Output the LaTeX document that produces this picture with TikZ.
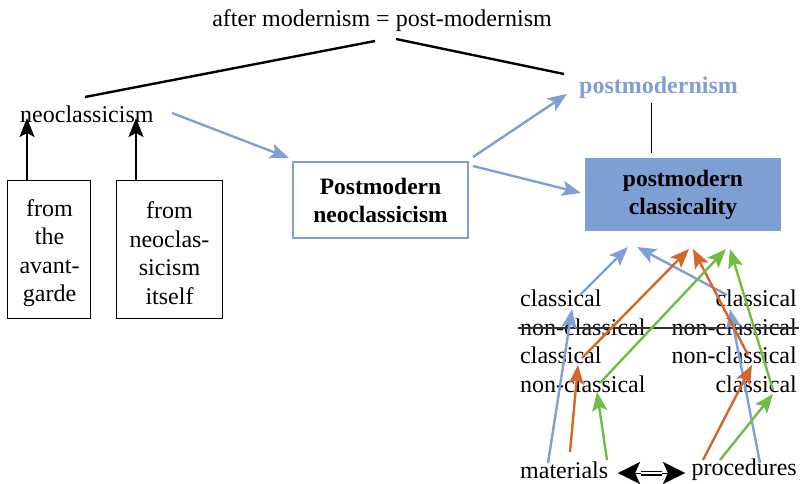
\documentclass[tikz,border=0pt]{standalone}
\usepackage{fontspec}
\setmainfont{Liberation Serif}
\usetikzlibrary{arrows.meta}
\definecolor{cblue}{HTML}{7F9FD5}
\definecolor{cfill}{HTML}{7D9FD3}
\definecolor{corange}{HTML}{D2672A}
\definecolor{cgreen}{HTML}{6EBD45}
\tikzset{
  txt/.style={inner sep=0pt, font=\fontsize{24}{28.5}\selectfont},
  bldtxt/.style={inner sep=0pt, font=\fontsize{23.5}{28}\selectfont\bfseries, align=center},
  headtip/.style={-{Stealth[length=19pt,width=15pt,inset=4pt]}},
  barrow/.style={headtip, cblue, line width=2.4pt},
  oarrow/.style={headtip, corange, line width=2.4pt},
  garrow/.style={headtip, cgreen, line width=2.4pt},
  karrow/.style={headtip, black, line width=2.2pt},
  smallbox/.style={draw, line width=1pt, minimum height=138pt, inner sep=0pt},
  boxtxt/.style={inner sep=0pt, align=center, font=\fontsize{24}{28.5}\selectfont},
  bighead/.style={-{Stealth[length=22pt,width=22pt,inset=5pt]}, line width=0.1pt},
}
\begin{document}
\begin{tikzpicture}[x=1pt,y=-1pt]
\useasboundingbox (0,0) rectangle (811,484);
% top
\node[txt] (title) at (382,21) {after modernism = post-modernism};
\node[txt, anchor=west] (neo) at (20,114) {neoclassicism};
\node[txt, anchor=west, font=\fontsize{24}{28}\selectfont\bfseries, text=cblue] (pm) at (579,88) {postmodernism};
\coordinate (tl1) at (85,97); \coordinate (tl2) at (375,41);
\coordinate (tr1) at (396,39); \coordinate (tr2) at (564,74);
\draw[line width=2.4pt] (tl1) -- (tl2);
\draw[line width=2.4pt] (tr1) -- (tr2);
% boxes
\node[draw=cblue, line width=2pt, fill=white, minimum width=175pt, minimum height=76pt, bldtxt] (pmn) at (380.5,200) {Postmodern\\neoclassicism};
\node[fill=cfill, minimum width=196pt, minimum height=73pt, bldtxt] (pmc) at (683,194.5) {postmodern\\classicality};
\coordinate (vl1) at (651,103); \coordinate (vl2) at (651,153);
\draw[line width=1pt] (vl1) -- (vl2);
\node[smallbox, minimum width=83pt] (b1) at (48.5,249) {};
\node[smallbox, minimum width=106pt] (b2) at (169,249) {};
\node[boxtxt] (b1t) at (49.5,253) {from\\the\\avant-\\garde};
\node[boxtxt] (b2t) at (169.5,253) {from\\neoclas-\\sicism\\itself};
\coordinate (n1) at (27,118); \coordinate (n2) at (136,118);
\draw[karrow] (b1.north -| n1) -- (n1);
\draw[karrow] (b2.north -| n2) -- (n2);
% blue arrows top
\coordinate (a1s) at (172,113); \coordinate (a1e) at (289,158);
\draw[barrow] (a1s) -- (a1e);
\coordinate (a2s) at (473,157); \coordinate (a2e) at (567,94);
\draw[barrow] (a2s) -- (a2e);
\coordinate (a3s) at (473,166); \coordinate (a3e) at (581,193);
\draw[barrow] (a3s) -- (a3e);
% lower texts
\node[txt, anchor=west] (L1) at (520,298) {classical};
\node[txt, anchor=west] (L2) at (520,327) {non-classical};
\node[txt, anchor=west] (L3) at (520,355) {classical};
\node[txt, anchor=west] (L4) at (520,384) {non-classical};
\node[txt, anchor=east] (R1) at (797,298) {classical};
\node[txt, anchor=east] (R2) at (797,327) {non-classical};
\node[txt, anchor=east] (R3) at (797,355) {non-classical};
\node[txt, anchor=east] (R4) at (797,384) {classical};
\node[txt, anchor=west] (mat) at (520,470) {materials};
\node[txt, anchor=east] (proc) at (797,470) {procedures};
\coordinate (st1) at (518,328); \coordinate (st2) at (799,328);
\draw[line width=1.6pt, black!80] (st1) -- (st2);
% double arrow
\coordinate (dL) at (618,473); \coordinate (dR) at (685,473);
\coordinate (dLi) at (641,473); \coordinate (dRi) at (662,473);
\draw[line width=1.3pt, double, double distance=2.4pt] (dLi) -- (dRi);
\draw[bighead] (dLi) -- (dL);
\draw[bighead] (dRi) -- (dR);
% target coordinates
\coordinate (tb1) at (628,247); \coordinate (tb2) at (637,247);
\coordinate (to1) at (689,249); \coordinate (to2) at (693,249);
\coordinate (tg1) at (726,249); \coordinate (tg2) at (730,249);
% blue chains
\coordinate (bm) at (548,463); \coordinate (bc1) at (572,309);
\coordinate (bc1s) at (580,295);
\draw[barrow] (bm) -- (bc1);
\draw[barrow] (bc1s) -- (tb1);
\coordinate (bp) at (760,463); \coordinate (bc2) at (730,309);
\coordinate (bc2s) at (727,295);
\draw[barrow] (bp) -- (bc2);
\draw[barrow] (bc2s) -- (tb2);
% orange chains
\coordinate (om) at (570,452); \coordinate (oc1) at (578,365);
\coordinate (oc1s) at (582,358);
\draw[oarrow] (om) -- (oc1);
\draw[oarrow] (oc1s) -- (to1);
\coordinate (op) at (703,460); \coordinate (oc2) at (752,365);
\coordinate (oc2s) at (748,355);
\draw[oarrow] (op) -- (oc2);
\draw[oarrow] (oc2s) -- (to2);
% green chains
\coordinate (gm) at (607,460); \coordinate (gc1) at (597,392);
\coordinate (gc1s) at (600,383);
\draw[garrow] (gm) -- (gc1);
\draw[garrow] (gc1s) -- (tg1);
\coordinate (gp) at (720,460); \coordinate (gc2) at (773,394);
\coordinate (gc2s) at (773,390);
\draw[garrow] (gp) -- (gc2);
\draw[garrow] (gc2s) -- (tg2);
\end{tikzpicture}
\end{document}
